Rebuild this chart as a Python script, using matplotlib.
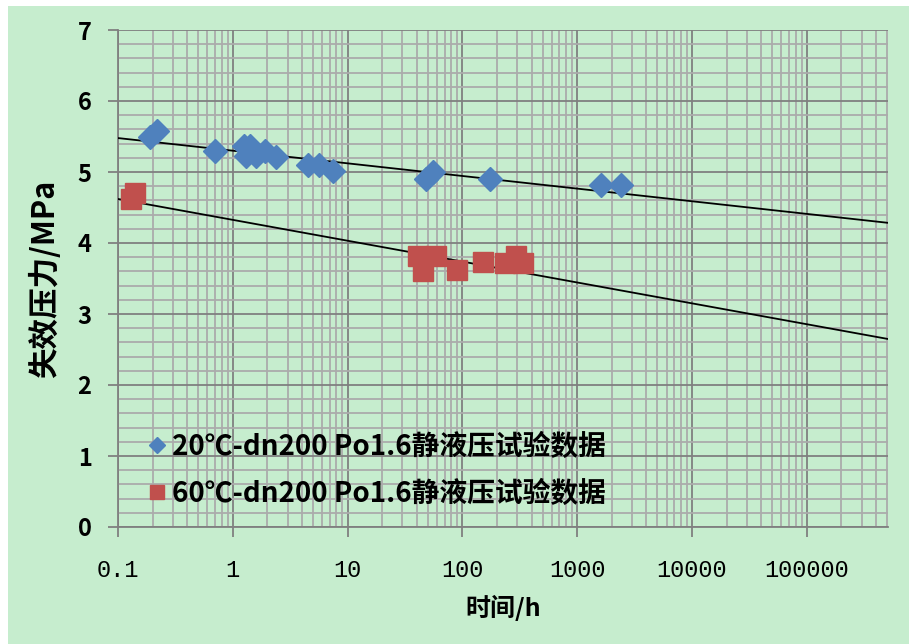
import numpy as np
import matplotlib.pyplot as plt
from matplotlib.patches import Rectangle
from matplotlib.ticker import FixedLocator, NullFormatter, MultipleLocator

plt.rcParams['font.family'] = ['Noto Sans CJK SC', 'DejaVu Sans']

# 20C data (blue diamonds)
t20 = [0.19, 0.22, 0.7, 1.25, 1.4, 1.3, 1.6, 1.9, 2.4, 4.5, 5.6, 7.5, 48, 55, 175, 1600, 2400]
p20 = [5.5, 5.58, 5.3, 5.36, 5.37, 5.23, 5.22, 5.29, 5.21, 5.1, 5.1, 5.02, 4.9, 5.0, 4.9, 4.81, 4.81]

# 60C data (red squares)
t60 = [0.13, 0.14, 41, 45, 59, 90, 150, 235, 295, 340]
p60 = [4.62, 4.7, 3.82, 3.6, 3.82, 3.62, 3.73, 3.72, 3.82, 3.72]

# trend lines: p = a + b*log10(t)
trend_a = [5.30, 4.326]
trend_b = [-0.178, -0.294]

labels = ['20℃-dn200 Po1.6静液压试验数据', '60℃-dn200 Po1.6静液压试验数据']
xticks = [0.1, 1, 10, 100, 1000, 10000, 100000]
xticklabels = ['0.1', '1', '10', '100', '1000', '10000', '100000']

green = '#C6EDCE'
blue = '#4F81BD'
red = '#C0504D'

fig = plt.figure(figsize=(9.09, 6.44), dpi=100)
fig.patch.set_facecolor('white')
fig.patches.append(Rectangle((8/909, 0), 1, 1 - 6/644, transform=fig.transFigure,
                             facecolor=green, edgecolor='none', zorder=-10))

ax = fig.add_axes([118/909, 1 - 527/644, 770/909, 497/644])
ax.set_facecolor(green)
ax.set_xscale('log')
ax.set_xlim(0.1, 5.1e5)
ax.set_ylim(0, 7)

# grid
ax.yaxis.set_major_locator(MultipleLocator(1))
ax.yaxis.set_minor_locator(MultipleLocator(0.2))
minors = [m * 10.0**e for e in range(-1, 6) for m in range(2, 10)]
ax.xaxis.set_major_locator(FixedLocator(xticks))
ax.xaxis.set_minor_locator(FixedLocator(minors))
ax.xaxis.set_minor_formatter(NullFormatter())
ax.grid(which='major', color='#808080', linewidth=1.3, zorder=0)
ax.grid(which='minor', color='#ABABAB', linewidth=1.3, zorder=0)
ax.set_axisbelow(True)
for s in ['top', 'right']:
    ax.spines[s].set_visible(False)
for s in ['left', 'bottom']:
    ax.spines[s].set_color('#808080')
    ax.spines[s].set_linewidth(1.3)

ax.tick_params(which='major', direction='out', length=7, color='#808080', width=1.3)
ax.tick_params(which='minor', length=0)
ax.set_xticklabels(xticklabels, family=['Liberation Mono', 'DejaVu Sans Mono'], fontsize=17)
ax.tick_params(axis='x', pad=16)
for lab in ax.get_yticklabels():
    lab.set_fontsize(17)
    lab.set_fontweight('bold')
ax.tick_params(axis='y', pad=12)

# trend lines
tx = np.logspace(-1, np.log10(5.1e5), 50)
for a, b in zip(trend_a, trend_b):
    ax.plot(tx, a + b * np.log10(tx), color='black', linewidth=1.3, zorder=3)

ax.plot(t20, p20, 'D', color=blue, markersize=12, linestyle='none', label=labels[0], zorder=4)
ax.plot(t60, p60, 's', color=red, markersize=15, linestyle='none', label=labels[1], zorder=4)

leg = ax.legend(loc='lower left', bbox_to_anchor=(0.0, -0.011), frameon=False,
                prop={'size': 20, 'weight': 'bold'}, handletextpad=0.05,
                handlelength=1.0, labelspacing=0.67, markerscale=0.7)

ax.set_xlabel('时间/h', fontsize=18, fontweight='bold', labelpad=9)
ax.set_ylabel('失效压力/MPa', fontsize=22, fontweight='bold', labelpad=12)

fig.savefig('out.png', dpi=100)
